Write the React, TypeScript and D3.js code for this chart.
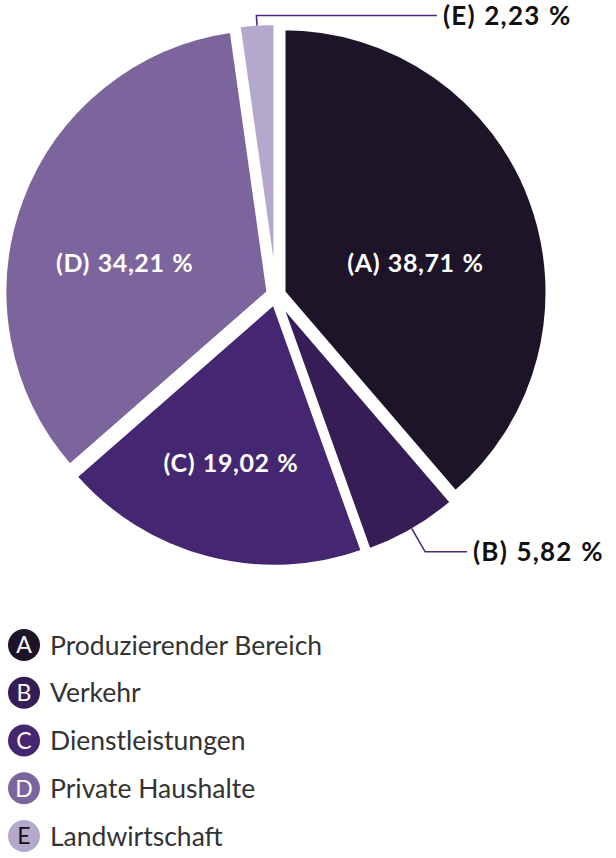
import React from "react";
import * as d3 from "d3";

const letters = ["A", "B", "C", "D", "E"];
const categories = ["Produzierender Bereich", "Verkehr", "Dienstleistungen", "Private Haushalte", "Landwirtschaft"];
const values = [38.71, 5.82, 19.02, 34.21, 2.23];
const valueLabels = ["38,71 %", "5,82 %", "19,02 %", "34,21 %", "2,23 %"];
const colors = ["#1d1428", "#361d56", "#452670", "#7c659c", "#b4a8cc"];
const letterColors = ["#ffffff", "#ffffff", "#ffffff", "#ffffff", "#111111"];
const outsideLabels = ["B", "E"];

const W = 616;
const H = 858;
const CX = 276;
const CY = 295;
const R = 264;
const EXPLODE = 8;
const STROKE = 4;
const FONT = "Lato, 'Source Sans Pro', 'Open Sans', sans-serif";

// horizontal end of the leader lines for outside labels
const leaderEndX: Record<string, number> = { B: 467, E: 437 };
const leaderElbowOut: Record<string, number> = { B: 27, E: 10 };

export default function App() {
  const data = letters.map((l, i) => ({ letter: l, name: categories[i], value: values[i], label: valueLabels[i], color: colors[i] }));
  const pie = d3.pie<any>().value((d) => d.value).sort(null);
  const arcs = pie(data);
  const arc = d3.arc<any>().innerRadius(0).outerRadius(R);

  const legendY = d3.scalePoint<string>().domain(letters).range([645, 836]);
  const visR = R - STROKE / 2;

  return (
    <svg width={W} height={H} style={{ position: "absolute", left: 0, top: 0, background: "#fff" }} fontFamily={FONT}>
      {arcs.map((a, i) => {
        const mid = (a.startAngle + a.endAngle) / 2;
        const dx = EXPLODE * Math.sin(mid);
        const dy = -EXPLODE * Math.cos(mid);
        return (
          <path
            key={i}
            d={arc(a) as string}
            transform={`translate(${CX + dx},${CY + dy})`}
            fill={a.data.color}
            stroke="#fff"
            strokeWidth={STROKE}
            strokeLinejoin="miter"
          />
        );
      })}
      {arcs.map((a, i) => {
        const mid = (a.startAngle + a.endAngle) / 2;
        const dx = EXPLODE * Math.sin(mid);
        const dy = -EXPLODE * Math.cos(mid);
        const letter = a.data.letter;
        if (outsideLabels.includes(letter)) {
          const sx = CX + dx + visR * Math.sin(mid);
          const sy = CY + dy - visR * Math.cos(mid);
          const eo = leaderElbowOut[letter];
          const ex = sx + eo * Math.sin(mid);
          const ey = letter === "E" ? 15.5 : sy - eo * Math.cos(mid);
          const tx = leaderEndX[letter];
          return (
            <g key={"l" + i}>
              <polyline points={`${sx},${sy} ${ex},${ey} ${tx},${ey}`} fill="none" stroke="#4b2a7a" strokeWidth={1.6} />
              <text x={tx + 6} y={ey} dy="0.36em" fontSize={26} fontWeight={700} letterSpacing={1.2} wordSpacing={1} fill="#111">
                {`(${letter}) ${a.data.label}`}
              </text>
            </g>
          );
        }
        const lr = 152;
        const lx = CX + lr * Math.sin(mid) * 1.02 - 6;
        const ly = CY - lr * Math.cos(mid) + 21;
        return (
          <text key={"t" + i} x={lx} y={ly} dy="0.36em" textAnchor="middle" fontSize={25} fontWeight={700} letterSpacing={0.6} wordSpacing={1} fill="#fff">
            {`(${letter}) ${a.data.label}`}
          </text>
        );
      })}
      {data.map((d, i) => {
        const y = legendY(d.letter) as number;
        return (
          <g key={"lg" + i}>
            <circle cx={24} cy={y} r={16} fill={d.color} />
            <text x={24} y={y} dy="0.36em" textAnchor="middle" fontSize={23} fill={letterColors[i]}>
              {d.letter}
            </text>
            <text x={50} y={y} dy="0.36em" fontSize={26.5} fill="#333">
              {d.name}
            </text>
          </g>
        );
      })}
    </svg>
  );
}
